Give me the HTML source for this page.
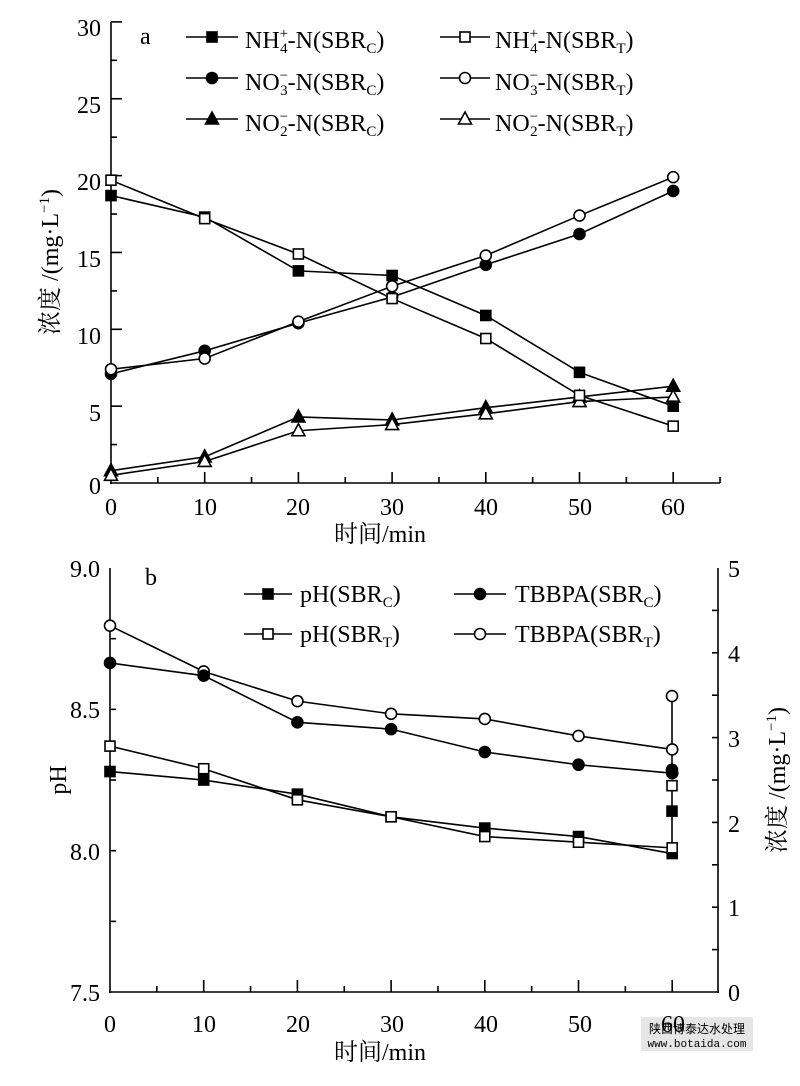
<!DOCTYPE html>
<html><head><meta charset="utf-8"><style>
body{margin:0;background:#fff}
svg text{font-family:"Liberation Serif","Noto Serif CJK SC",serif;fill:#000}
</style></head><body>
<svg id="s" width="800" height="1081" viewBox="0 0 800 1081" xmlns="http://www.w3.org/2000/svg">
<rect x="641" y="1017" width="112" height="34" fill="#e6e6e6"/>
<text x="697" y="1033" text-anchor="middle" font-size="12" style="font-family:'Noto Sans CJK SC',sans-serif">陕西博泰达水处理</text>
<text x="697" y="1047" text-anchor="middle" font-size="11" style="font-family:'Liberation Mono',monospace">www.botaida.com</text>
<g font-size="24">
<text x="101" y="36" text-anchor="end">30</text>
<text x="101" y="113" text-anchor="end">25</text>
<text x="101" y="190" text-anchor="end">20</text>
<text x="101" y="267" text-anchor="end">15</text>
<text x="101" y="344" text-anchor="end">10</text>
<text x="101" y="421" text-anchor="end">5</text>
<text x="101" y="494" text-anchor="end">0</text>
<text x="111" y="515" text-anchor="middle">0</text>
<text x="205" y="515" text-anchor="middle">10</text>
<text x="298" y="515" text-anchor="middle">20</text>
<text x="392" y="515" text-anchor="middle">30</text>
<text x="486" y="515" text-anchor="middle">40</text>
<text x="580" y="515" text-anchor="middle">50</text>
<text x="673" y="515" text-anchor="middle">60</text>
<text x="380" y="542" text-anchor="middle">时间/min</text>
<text transform="translate(58,262) rotate(-90)" text-anchor="middle">浓度 /(mg·L<tspan font-size="15" dy="-9">−1</tspan><tspan dy="9">)</tspan></text>
<text x="140" y="44">a</text>
<text x="245" y="48">NH<tspan font-size="15" dy="-10">+</tspan><tspan font-size="15" dx="-8" dy="15">4</tspan><tspan dy="-5">-N(SBR</tspan><tspan font-size="15" dy="5">C</tspan><tspan dy="-5">)</tspan></text>
<text x="495" y="48">NH<tspan font-size="15" dy="-10">+</tspan><tspan font-size="15" dx="-8" dy="15">4</tspan><tspan dy="-5">-N(SBR</tspan><tspan font-size="15" dy="5">T</tspan><tspan dy="-5">)</tspan></text>
<text x="245" y="90">NO<tspan font-size="15" dy="-10">−</tspan><tspan font-size="15" dx="-8" dy="15">3</tspan><tspan dy="-5">-N(SBR</tspan><tspan font-size="15" dy="5">C</tspan><tspan dy="-5">)</tspan></text>
<text x="495" y="90">NO<tspan font-size="15" dy="-10">−</tspan><tspan font-size="15" dx="-8" dy="15">3</tspan><tspan dy="-5">-N(SBR</tspan><tspan font-size="15" dy="5">T</tspan><tspan dy="-5">)</tspan></text>
<text x="245" y="131">NO<tspan font-size="15" dy="-10">−</tspan><tspan font-size="15" dx="-8" dy="15">2</tspan><tspan dy="-5">-N(SBR</tspan><tspan font-size="15" dy="5">C</tspan><tspan dy="-5">)</tspan></text>
<text x="495" y="131">NO<tspan font-size="15" dy="-10">−</tspan><tspan font-size="15" dx="-8" dy="15">2</tspan><tspan dy="-5">-N(SBR</tspan><tspan font-size="15" dy="5">T</tspan><tspan dy="-5">)</tspan></text>
<text x="100" y="577" text-anchor="end">9.0</text>
<text x="100" y="718" text-anchor="end">8.5</text>
<text x="100" y="860" text-anchor="end">8.0</text>
<text x="100" y="1001" text-anchor="end">7.5</text>
<text x="728" y="577">5</text>
<text x="728" y="662">4</text>
<text x="728" y="747">3</text>
<text x="728" y="832">2</text>
<text x="728" y="916">1</text>
<text x="728" y="1001">0</text>
<text x="110" y="1032" text-anchor="middle">0</text>
<text x="204" y="1032" text-anchor="middle">10</text>
<text x="298" y="1032" text-anchor="middle">20</text>
<text x="392" y="1032" text-anchor="middle">30</text>
<text x="486" y="1032" text-anchor="middle">40</text>
<text x="580" y="1032" text-anchor="middle">50</text>
<text x="673" y="1032" text-anchor="middle">60</text>
<text x="380" y="1060" text-anchor="middle">时间/min</text>
<text transform="translate(66,780) rotate(-90)" text-anchor="middle">pH</text>
<text transform="translate(785,780) rotate(-90)" text-anchor="middle">浓度 /(mg·L<tspan font-size="15" dy="-9">−1</tspan><tspan dy="9">)</tspan></text>
<text x="145" y="585">b</text>
<text x="300" y="602">pH(SBR<tspan font-size="15" dy="5">C</tspan><tspan dy="-5">)</tspan></text>
<text x="300" y="642">pH(SBR<tspan font-size="15" dy="5">T</tspan><tspan dy="-5">)</tspan></text>
<text x="515" y="602">TBBPA(SBR<tspan font-size="15" dy="5">C</tspan><tspan dy="-5">)</tspan></text>
<text x="515" y="642">TBBPA(SBR<tspan font-size="15" dy="5">T</tspan><tspan dy="-5">)</tspan></text>
</g>
<g id="g" stroke="#000" stroke-width="1.6" fill="none"></g>
</svg>
<script>
var g=document.getElementById('g'),NS='http://www.w3.org/2000/svg';
function el(t,a){var e=document.createElementNS(NS,t);for(var k in a)e.setAttribute(k,a[k]);g.appendChild(e);return e;}
function line(x1,y1,x2,y2){el('line',{x1:x1,y1:y1,x2:x2,y2:y2});}
function mk(type,fill,x,y){
 if(type=='s')el('rect',{x:x-5,y:y-5,width:10,height:10,fill:fill?'#000':'#fff'});
 else if(type=='c')el('circle',{cx:x,cy:y,r:5.5,fill:fill?'#000':'#fff'});
 else el('polygon',{points:(x)+','+(y-7)+' '+(x-6.5)+','+(y+5)+' '+(x+6.5)+','+(y+5),fill:fill?'#000':'#fff'});
}
function series(pts,type,fill){el('polyline',{points:pts.map(p=>p.join(',')).join(' ')});pts.forEach(p=>mk(type,fill,p[0],p[1]));}
var X=t=>111+t*9.37,Y=v=>483-v*15.37;
line(111,22,111,484);line(110,483,720,483);
for(var v=2.5;v<=30;v+=2.5)line(111,Y(v),v%5?117:122,Y(v));
for(var t=5;t<=65;t+=5)line(X(t),483,X(t),t%10?477:472);
var T=[0,10,20,30,40,50,60];
function ts(d){return d.map((v,i)=>[X(T[i]),Y(v)]);}
series(ts([0.8,1.7,4.3,4.1,4.9,5.6,6.3]),'t',1);
series(ts([0.5,1.4,3.4,3.8,4.5,5.3,5.6]),'t',0);
series(ts([7.1,8.6,10.4,12.1,14.2,16.2,19.0]),'c',1);
series(ts([7.4,8.1,10.5,12.8,14.8,17.4,19.9]),'c',0);
series(ts([18.7,17.3,13.8,13.5,10.9,7.2,5.0]),'s',1);
series(ts([19.7,17.2,14.9,12.0,9.4,5.7,3.7]),'s',0);
[[37,'s'],[78,'c'],[119,'t']].forEach(r=>{line(186,r[0],238,r[0]);mk(r[1],1,212,r[0]);line(440,r[0],490,r[0]);mk(r[1],0,465,r[0]);});
var Yp=p=>568+(9-p)*282.7,Yr=c=>992-c*84.8;
line(110,568,110,993);line(109,992,719,992);line(718,568,718,993);
for(var p=7.75;p<9;p+=0.25)line(110,Yp(p),116,Yp(p));
for(var c=0.5;c<5;c+=0.5)line(718,Yr(c),712,Yr(c));
for(var t=5;t<=60;t+=5)line(X(t)-1,992,X(t)-1,t%10?986:980);
function tb(d){return d.map((v,i)=>[X(T[i])-1,Yr(v)]);}
function tp(d){return d.map((v,i)=>[X(T[i])-1,Yp(v)]);}
line(672,Yr(3.49),672,Yr(2.58));line(672,Yp(8.23),672,Yp(7.99));
series(tb([4.32,3.78,3.43,3.28,3.22,3.02,2.86]),'c',0);
series(tb([3.88,3.73,3.18,3.10,2.83,2.68,2.58]),'c',1);
series(tp([8.28,8.25,8.20,8.12,8.08,8.05,7.99]),'s',1);
series(tp([8.37,8.29,8.18,8.12,8.05,8.03,8.01]),'s',0);
mk('c',0,672,Yr(3.49));mk('c',1,672,Yr(2.62));mk('s',0,672,Yp(8.23));mk('s',1,672,Yp(8.14));
line(244,594,292,594);mk('s',1,268,594);line(244,634,292,634);mk('s',0,268,634);
line(454,594,506,594);mk('c',1,480,594);line(454,634,506,634);mk('c',0,480,634);
</script>
</body></html>
